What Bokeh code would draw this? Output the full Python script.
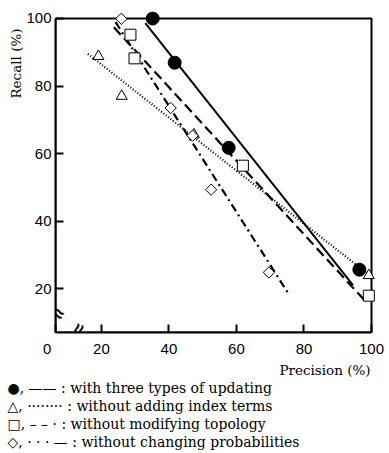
import math
from bokeh.plotting import figure
from bokeh.models import Range1d, FixedTicker, Title
from bokeh.embed import file_html
from bokeh.resources import INLINE

# ---- data ----
full_x = [35.2, 41.7, 57.7, 96.4]
full_y = [100.0, 86.9, 61.7, 25.6]
full_fit_x = [33.0, 94.5]
full_fit_y = [98.6, 21.0]

noadd_x = [19.1, 26.0, 47.4, 99.2]
noadd_y = [88.8, 77.0, 65.6, 23.9]
noadd_fit_x = [16.0, 100.0]
noadd_fit_y = [89.5, 23.5]

notopo_x = [28.6, 29.8, 61.9, 99.2]
notopo_y = [95.2, 88.2, 56.4, 17.9]
notopo_fit_x = [23.7, 98.8]
notopo_fit_y = [97.4, 15.6]

noprob_x = [25.9, 40.5, 47.0, 52.5, 69.6]
noprob_y = [99.9, 73.5, 65.3, 49.3, 24.8]
noprob_fit_x = [24.2, 75.6]
noprob_fit_y = [98.9, 18.2]

x_ticks = [6.4, 20, 40, 60, 80, 100]
x_tick_labels = {6.4: "0\u2007\u2007"}
y_ticks = [20, 40, 60, 80, 100]

legend_rows = [
    "\u25CF, \u2014\u2014 : with three types of updating",
    "\u25B3, \u00B7\u00B7\u00B7\u00B7\u00B7\u00B7\u00B7\u00B7 : without adding index terms",
    "\u25A1, \u2013 \u2013 \u00B7 : without modifying topology",
    "\u25C7, \u00B7 \u00B7 \u00B7 \u2014 : without changing probabilities",
]

SERIF = "DejaVu Serif"
SANS = "Liberation Sans"

X0, X1 = 6.4, 100.0   # axis box
Y0, Y1 = 7.0, 100.0

p = figure(width=389, height=453, output_backend="svg", toolbar_location=None,
           x_range=Range1d(X0, 102.07), y_range=Range1d(Y0, 102.07),
           min_border_left=55, min_border_top=11, min_border_right=11,
           min_border_bottom=121)
p.grid.visible = False
p.outline_line_color = None
p.background_fill_color = "white"
p.border_fill_color = "white"

for ax, ticks, bounds in ((p.xaxis[0], x_ticks, (X0, X1)), (p.yaxis[0], y_ticks, (Y0, Y1))):
    ax.ticker = FixedTicker(ticks=ticks)
    ax.bounds = bounds
    ax.axis_line_width = 2
    ax.axis_line_color = "black"
    ax.major_tick_in = 8
    ax.major_tick_out = 0
    ax.major_tick_line_width = 2
    ax.minor_tick_line_color = None
    ax.major_label_text_font = SANS
    ax.major_label_text_font_size = "15px"
    ax.major_label_text_color = "black"
p.xaxis.major_label_overrides = x_tick_labels
p.xaxis.major_label_standoff = 7
p.yaxis.major_label_standoff = 4

# axis box (top and right edges)
p.quad(left=[X0], right=[X1], bottom=[Y0], top=[Y1], fill_color=None,
       line_color="black", line_width=2)

# fitted lines
p.line(full_fit_x, full_fit_y, line_color="black", line_width=2)
p.line(noadd_fit_x, noadd_fit_y, line_color="black", line_width=2.2, line_dash="1 2")
p.line(notopo_fit_x, notopo_fit_y, line_color="black", line_width=2.2, line_dash="10 5")
p.line(noprob_fit_x, noprob_fit_y, line_color="black", line_width=2.2, line_dash="8 4 2 4")

# markers
p.scatter(full_x, full_y, marker="circle", size=13, fill_color="black", line_color="black")
p.scatter(noadd_x, noadd_y, marker="triangle", size=11, fill_color="white",
          line_color="black", line_width=1)
p.scatter(notopo_x, notopo_y, marker="square", size=11, fill_color="white",
          line_color="black", line_width=1)
p.scatter(noprob_x, noprob_y, marker="square", angle=math.pi / 4, size=8,
          fill_color="white", line_color="black", line_width=1)

# axis break marks
p.text(x=[X0 + 0.9], y=[12.6], text=["\u2248"], angle=-0.5, text_align="center",
       text_baseline="middle", text_font_size="19px", text_font_style="bold",
       text_color="black")
p.text(x=[13.2], y=[Y0 + 1.0], text=["\u2248"], angle=1.2, text_align="center",
       text_baseline="middle", text_font_size="19px", text_font_style="bold",
       text_color="black")

# y axis title (top aligned)
p.add_layout(Title(text="Recall (%)", align="right", offset=17, standoff=0,
                   text_font=SERIF, text_font_size="13.5px", text_font_style="normal",
                   text_color="black"), "left")
# x axis title (right aligned)
p.add_layout(Title(text="Precision (%)", align="right", offset=8, standoff=0,
                   text_font=SERIF, text_font_size="13.5px", text_font_style="normal",
                   text_color="black"), "below")
# legend rows
for row in legend_rows:
    p.add_layout(Title(text=row, align="left", offset=-48, standoff=0,
                       text_font=SERIF, text_font_size="14px", text_font_style="normal",
                       text_color="black"), "below")

open("out.html", "w").write(file_html(p, INLINE))
